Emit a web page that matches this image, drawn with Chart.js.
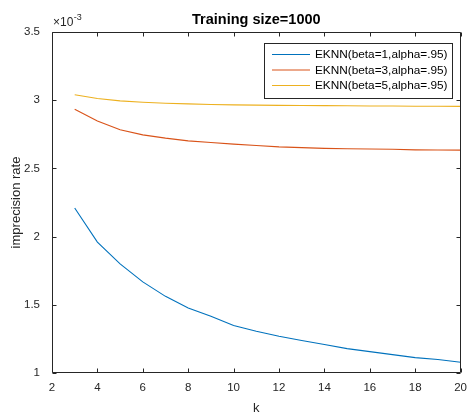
<!DOCTYPE html>
<html>
<head>
<meta charset="utf-8">
<script src="https://cdn.jsdelivr.net/npm/chart.js@4/dist/chart.umd.min.js"></script>
<style>
  html, body { margin: 0; padding: 0; background: #ffffff; }
  #wrap { width: 475px; height: 413px; position: relative; }
</style>
</head>
<body>
<div id="wrap"><canvas id="c" width="475" height="413"></canvas></div>
<script>
// ---- data ----
const kValues = [3, 4, 5, 6, 7, 8, 9, 10, 11, 12, 13, 14, 15, 16, 17, 18, 19, 20];
const seriesLabels = ['EKNN(beta=1,alpha=.95)', 'EKNN(beta=3,alpha=.95)', 'EKNN(beta=5,alpha=.95)'];
const beta1 = [2.21e-3, 1.96e-3, 1.80e-3, 1.668e-3, 1.562e-3, 1.477e-3, 1.416e-3, 1.348e-3, 1.306e-3, 1.270e-3, 1.238e-3, 1.209e-3, 1.179e-3, 1.157e-3, 1.135e-3, 1.113e-3, 1.099e-3, 1.079e-3];
const beta3 = [2.934e-3, 2.848e-3, 2.783e-3, 2.746e-3, 2.722e-3, 2.702e-3, 2.690e-3, 2.678e-3, 2.668e-3, 2.658e-3, 2.652e-3, 2.647e-3, 2.644e-3, 2.642e-3, 2.640e-3, 2.636e-3, 2.635e-3, 2.634e-3];
const beta5 = [3.04e-3, 3.012e-3, 2.995e-3, 2.985e-3, 2.978e-3, 2.973e-3, 2.969e-3, 2.966e-3, 2.964e-3, 2.962e-3, 2.961e-3, 2.960e-3, 2.959e-3, 2.958e-3, 2.957e-3, 2.956e-3, 2.956e-3, 2.955e-3];
const xTicks = [2, 4, 6, 8, 10, 12, 14, 16, 18, 20];
const yTicks = [1e-3, 1.5e-3, 2e-3, 2.5e-3, 3e-3, 3.5e-3];
const titleText = 'Training size=1000';
const xLabel = 'k';
const yLabel = 'imprecision rate';
const yExponent = '-3';

const colors = ['#0072BD', '#D95319', '#EDB120'];
const axisColor = '#262626';
const FONT = "'Liberation Sans', Arial, Helvetica, sans-serif";

function pts(ys) { return kValues.map((k, i) => ({ x: k, y: ys[i] })); }

const matlabAxes = {
  id: 'matlabAxes',
  afterDraw(chart) {
    const ctx = chart.ctx;
    const a = chart.chartArea;
    const xs = chart.scales.x, ys = chart.scales.y;
    const L = Math.round(a.left) + 0.5, R = Math.round(a.right) - 0.5;
    const T = Math.round(a.top) + 0.5, B = Math.round(a.bottom) - 0.5;
    ctx.save();
    ctx.strokeStyle = axisColor;
    ctx.lineWidth = 1;
    ctx.beginPath();
    ctx.rect(L, T, R - L, B - T);
    ctx.stroke();
    // inward ticks on all four sides
    const tl = 4;
    ctx.beginPath();
    xTicks.forEach(v => {
      const px = Math.round(xs.getPixelForValue(v)) + 0.5;
      ctx.moveTo(px, B); ctx.lineTo(px, B - tl);
      ctx.moveTo(px, T); ctx.lineTo(px, T + tl);
    });
    yTicks.forEach(v => {
      const py = Math.round(ys.getPixelForValue(v)) + 0.5;
      ctx.moveTo(L, py); ctx.lineTo(L + tl, py);
      ctx.moveTo(R, py); ctx.lineTo(R - tl, py);
    });
    ctx.stroke();

    // title
    ctx.fillStyle = '#000000';
    ctx.font = 'bold 14.5px ' + FONT;
    ctx.textAlign = 'center';
    ctx.textBaseline = 'alphabetic';
    ctx.fillText(titleText, (a.left + a.right) / 2, 24);

    // x label
    ctx.fillStyle = axisColor;
    ctx.font = '13px ' + FONT;
    ctx.fillText(xLabel, (a.left + a.right) / 2, 412);

    // y label
    ctx.save();
    ctx.translate(16, (a.top + a.bottom) / 2);
    ctx.rotate(-Math.PI / 2);
    ctx.textBaseline = 'middle';
    ctx.fillText(yLabel, 0, 0);
    ctx.restore();

    // exponent
    ctx.textAlign = 'left';
    ctx.font = '12px ' + FONT;
    ctx.fillText('\u00d710', a.left + 1, 26);
    const w = ctx.measureText('\u00d710').width;
    ctx.font = '9px ' + FONT;
    ctx.fillText(yExponent, a.left + 1 + w + 0.5, 20);

    // legend box
    const lx = 264.5, ly = 43.5, lw = 188, lh = 55;
    ctx.fillStyle = '#ffffff';
    ctx.fillRect(lx, ly, lw, lh);
    ctx.strokeStyle = axisColor;
    ctx.strokeRect(lx, ly, lw, lh);
    ctx.font = '11.8px ' + FONT;
    ctx.textBaseline = 'middle';
    chart.data.datasets.forEach((ds, i) => {
      const y = 54.5 + i * 15.5;
      ctx.strokeStyle = ds.borderColor;
      ctx.beginPath();
      ctx.moveTo(272, y); ctx.lineTo(310, y);
      ctx.stroke();
      ctx.fillStyle = '#000000';
      ctx.fillText(ds.label, 315, y + 0.5);
    });
    ctx.restore();
  }
};

new Chart(document.getElementById('c'), {
  type: 'line',
  data: {
    datasets: [
      { label: seriesLabels[0], data: pts(beta1), borderColor: colors[0] },
      { label: seriesLabels[1], data: pts(beta3), borderColor: colors[1] },
      { label: seriesLabels[2], data: pts(beta5), borderColor: colors[2] }
    ].map(d => Object.assign(d, { borderWidth: 1.1, pointRadius: 0, tension: 0, fill: false, backgroundColor: d.borderColor }))
  },
  options: {
    responsive: false,
    animation: false,
    layout: { padding: { top: 32, right: 8, left: 0, bottom: 0 } },
    plugins: { legend: { display: false }, title: { display: false }, tooltip: { enabled: false } },
    scales: {
      x: {
        type: 'linear', min: 2, max: 20,
        grid: { display: false, drawTicks: false },
        border: { display: false },
        afterBuildTicks: s => { s.ticks = xTicks.map(v => ({ value: v })); },
        afterFit: s => { s.height = 40; },
        ticks: { color: axisColor, padding: 8, font: { family: FONT, size: 11.5 }, maxRotation: 0, autoSkip: false, callback: v => String(v) }
      },
      y: {
        type: 'linear', min: 1e-3, max: 3.5e-3,
        grid: { display: false, drawTicks: false },
        border: { display: false },
        afterBuildTicks: s => { s.ticks = yTicks.map(v => ({ value: v })); },
        afterFit: s => { s.width = 52; },
        ticks: { color: axisColor, padding: 12, font: { family: FONT, size: 11.5 }, autoSkip: false, callback: v => String(Math.round(v * 1e4) / 10) }
      }
    }
  },
  plugins: [matlabAxes]
});
</script>
</body>
</html>
